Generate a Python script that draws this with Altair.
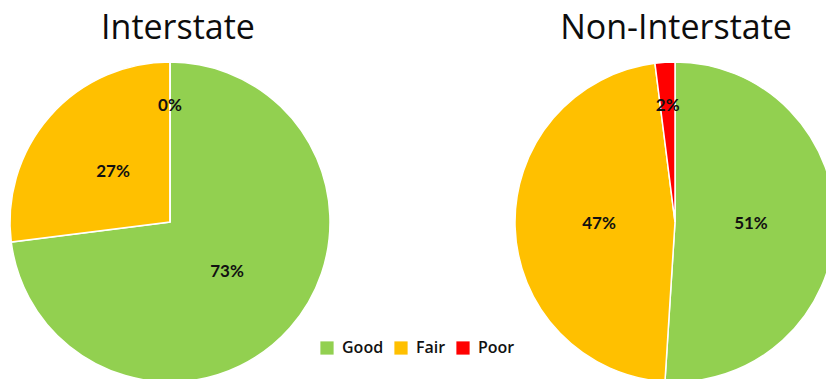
import math
import altair as alt
import pandas as pd

regions = ["Interstate", "Non-Interstate"]
conditions = ["Good", "Fair", "Poor"]
interstate_pct = [73, 27, 0]
non_interstate_pct = [51, 47, 2]
colors = ["#92D050", "#FFC000", "#FF0000"]

rows = []
for reg, vals in zip(regions, [interstate_pct, non_interstate_pct]):
    for i, (c, v) in enumerate(zip(conditions, vals)):
        rows.append({"region": reg, "condition": c, "order": i, "pct": v})
df = pd.DataFrame(rows)
titles_df = pd.DataFrame({"region": regions})

base = alt.Chart(df).transform_window(
    cum="sum(pct)", groupby=["region"], sort=[alt.SortField("order")], frame=[None, 0]
).transform_joinaggregate(
    total="sum(pct)", groupby=["region"]
).transform_calculate(
    start="(datum.cum - datum.pct) / datum.total",
    end="datum.cum / datum.total",
    mid="(datum.cum - datum.pct / 2) / datum.total",
    label="datum.pct + '%'",
    lr="datum.pct < 5 ? 116 : 76",
)

xenc = alt.X(
    "region:N",
    scale=alt.Scale(type="point", domain=regions, range=[170, 675], padding=0),
    axis=None,
)
theta_scale = alt.Scale(domain=[0, 1], range=[0, 2 * math.pi])

arcs = base.mark_arc(outerRadius=160, stroke="white", strokeWidth=1.5).encode(
    x=xenc,
    y=alt.value(222),
    theta=alt.Theta("start:Q", scale=theta_scale, stack=None),
    theta2="end:Q",
    color=alt.Color(
        "condition:N",
        scale=alt.Scale(domain=conditions, range=colors),
        legend=alt.Legend(
            title=None,
            orient="none",
            legendX=319,
            legendY=340,
            direction="horizontal",
            symbolType="square",
            symbolSize=175,
            symbolStrokeWidth=0,
            labelFont="Open Sans",
            labelFontSize=16,
            labelFontWeight=600,
            labelColor="#111111",
            labelOffset=7,
            columnPadding=9,
        ),
    ),
)

labels = base.mark_text(font="Lato", fontWeight="bold", fontSize=17, color="#111111").encode(
    x=xenc,
    y=alt.value(222),
    theta=alt.Theta("mid:Q", scale=theta_scale, stack=None),
    radius=alt.Radius("lr:Q", scale=None),
    text="label:N",
)

titles = alt.Chart(titles_df).mark_text(
    font="Open Sans", fontSize=34, color="#0d0d0d", baseline="alphabetic"
).encode(
    x=alt.X(
        "region:N",
        scale=alt.Scale(type="point", domain=regions, range=[178, 676], padding=0),
        axis=None,
    ),
    y=alt.value(39),
    text="region:N",
)

chart = alt.layer(arcs, labels, titles).resolve_scale(x="independent").properties(
    width=826, height=379, padding=0, autosize=alt.AutoSizeParams(type="none")
).configure_view(stroke=None)

chart.save("out.html", embed_options={"renderer": "svg", "actions": False})
